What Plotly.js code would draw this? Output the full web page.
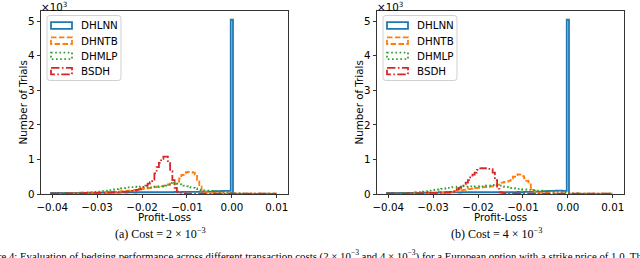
<!DOCTYPE html>
<html><head><meta charset="utf-8">
<script src="https://cdn.plot.ly/plotly-3.0.1.min.js"></script>
<style>html,body{margin:0;padding:0;background:#fff}#chart{width:640px;height:258px}</style>
</head><body><div id="chart"></div>
<script>
// ---------- data ----------
const binStart = -0.04025;      // left edge of first bin
const binWidth = 0.0005;
const seriesNames = ['DHLNN', 'DHNTB', 'DHMLP', 'BSDH'];
const xTickVals = [-0.04, -0.03, -0.02, -0.01, 0, 0.01];
const xTickText = ['\u22120.04', '\u22120.03', '\u22120.02', '\u22120.01', '0.00', '0.01'];
const yTickVals = [0, 1, 2, 3, 4, 5];
const yTickText = ['0', '1', '2', '3', '4', '5'];
const subCaptions = ['(a) Cost = 2 \u00d7 10<sup>\u22123</sup>', '(b) Cost = 4 \u00d7 10<sup>\u22123</sup>'];
const figCaption = 'Figure 4: Evaluation of hedging performance across different transaction costs (2 \u00d7 10<sup>\u22123</sup> and 4 \u00d7 10<sup>\u22123</sup>) for a European option with a strike price of 1.0. The';

// counts per bin, in thousands of trials
const dhlnnA = [0.03,0.03,0.02,0.03,0.03,0.02,0.03,0.03,0.03,0.02,
  0.03,0.03,0.03,0.04,0.03,0.03,0.04,0.03,0.04,0.04,
  0.04,0.04,0.04,0.04,0.04,0.05,0.04,0.04,0.05,0.04,
  0.04,0.05,0.05,0.04,0.05,0.05,0.05,0.04,0.05,0.05,
  0.05,0.05,0.05,0.05,0.05,0.05,0.05,0.05,0.05,0.05,
  0.05,0.05,0.05,0.05,0.05,0.06,0.05,0.05,0.06,0.06,
  0.06,0.06,0.06,0.06,0.06,0.06,0.07,0.06,0.07,0.07,
  0.07,0.07,0.08,0.08,0.08,0.08,0.09,0.09,0.09,0.09,
  5.05,0,0,0,0,0,0,0,0,0,
  0,0,0,0,0,0,0,0,0,0];
const dhntbA = [0.01,0.01,0.01,0.01,0.01,0.01,0.01,0.01,0.02,0.01,
  0.02,0.02,0.02,0.02,0.02,0.03,0.02,0.03,0.03,0.03,
  0.03,0.04,0.04,0.04,0.05,0.05,0.05,0.06,0.06,0.07,
  0.07,0.08,0.08,0.09,0.1,0.1,0.11,0.12,0.12,0.13,
  0.14,0.15,0.16,0.17,0.18,0.19,0.2,0.21,0.22,0.22,
  0.24,0.26,0.28,0.3,0.32,0.3,0.36,0.45,0.55,0.6,
  0.63,0.64,0.64,0.62,0.56,0.4,0.22,0.09,0.05,0.04,
  0.04,0.03,0.03,0.03,0.03,0.02,0.02,0.02,0.02,0.02,
  0.02,0.01,0.01,0.01,0.01,0.01,0.01,0.01,0.01,0.01,
  0.01,0.01,0.01,0.01,0.01,0.01,0.01,0.01,0.01,0.01];
const dhmlpA = [0.01,0.01,0.01,0.01,0.01,0.02,0.01,0.02,0.02,0.02,
  0.02,0.03,0.03,0.03,0.04,0.04,0.04,0.05,0.05,0.06,
  0.06,0.07,0.07,0.08,0.09,0.1,0.11,0.12,0.13,0.14,
  0.15,0.16,0.17,0.18,0.19,0.2,0.2,0.21,0.2,0.21,
  0.2,0.2,0.19,0.2,0.19,0.2,0.21,0.21,0.22,0.22,
  0.23,0.24,0.27,0.32,0.35,0.33,0.3,0.28,0.26,0.24,
  0.22,0.2,0.19,0.18,0.16,0.14,0.12,0.11,0.1,0.1,
  0.09,0.09,0.08,0.08,0.07,0.07,0.06,0.05,0.05,0.04,
  0.03,0.02,0.02,0.02,0.01,0.01,0.01,0.01,0.01,0.01,
  0.01,0.01,0.01,0.01,0.01,0.01,0.01,0.01,0.01,0.01];
const bsdhA = [0.01,0.01,0.01,0.01,0.01,0.01,0.02,0.01,0.02,0.02,
  0.02,0.02,0.02,0.02,0.02,0.03,0.02,0.03,0.03,0.03,
  0.03,0.03,0.04,0.03,0.04,0.04,0.04,0.05,0.05,0.05,
  0.05,0.06,0.06,0.07,0.07,0.08,0.09,0.1,0.12,0.14,
  0.16,0.2,0.24,0.3,0.34,0.42,0.6,0.78,0.9,1.02,
  1.08,1.08,0.95,0.66,0.4,0.18,0.07,0.04,0.02,0.02,
  0.01,0.01,0.01,0.01,0.01,0.01,0.01,0.01,0.01,0.01,
  0.01,0.01,0.01,0.01,0.01,0.01,0.01,0.01,0.01,0.01,
  0.01,0.01,0.01,0.01,0.01,0.01,0.01,0.01,0.01,0.01,
  0.01,0.01,0.01,0.01,0.01,0.01,0.01,0.01,0.01,0.01];

const dhlnnB = [0.03,0.03,0.03,0.02,0.03,0.03,0.03,0.02,0.03,0.03,
  0.03,0.03,0.04,0.03,0.03,0.04,0.04,0.03,0.04,0.04,
  0.04,0.04,0.04,0.05,0.04,0.04,0.05,0.04,0.05,0.05,
  0.05,0.05,0.04,0.05,0.05,0.05,0.05,0.05,0.05,0.05,
  0.05,0.05,0.05,0.05,0.05,0.05,0.05,0.05,0.05,0.05,
  0.05,0.05,0.05,0.05,0.05,0.05,0.05,0.05,0.06,0.05,
  0.05,0.06,0.06,0.06,0.06,0.06,0.07,0.07,0.07,0.08,
  0.08,0.08,0.09,0.09,0.09,0.1,0.1,0.1,0.09,0.09,
  5.05,0,0,0,0,0,0,0,0,0,
  0,0,0,0,0,0,0,0,0,0];
const dhntbB = [0.01,0.01,0.01,0.01,0.01,0.01,0.01,0.01,0.01,0.01,
  0.01,0.02,0.01,0.02,0.02,0.02,0.02,0.02,0.03,0.02,
  0.03,0.03,0.04,0.04,0.04,0.05,0.05,0.06,0.06,0.07,
  0.08,0.09,0.1,0.11,0.12,0.13,0.14,0.15,0.16,0.17,
  0.18,0.19,0.19,0.2,0.2,0.21,0.22,0.23,0.25,0.27,
  0.3,0.33,0.35,0.36,0.38,0.44,0.5,0.55,0.57,0.56,
  0.52,0.45,0.38,0.28,0.18,0.1,0.06,0.04,0.03,0.03,
  0.03,0.03,0.02,0.02,0.02,0.02,0.02,0.02,0.02,0.02,
  0.02,0.01,0.01,0.01,0.01,0.01,0.01,0.01,0.01,0.01,
  0.01,0.01,0.01,0.01,0.01,0.01,0.01,0.01,0.01,0.01];
const dhmlpB = [0.01,0.01,0.01,0.01,0.02,0.02,0.02,0.02,0.02,0.03,
  0.03,0.03,0.04,0.05,0.05,0.06,0.07,0.08,0.09,0.1,
  0.11,0.12,0.13,0.14,0.15,0.16,0.17,0.18,0.19,0.2,
  0.2,0.21,0.21,0.2,0.22,0.21,0.22,0.22,0.21,0.22,
  0.22,0.23,0.22,0.23,0.24,0.24,0.25,0.26,0.27,0.26,
  0.24,0.22,0.21,0.2,0.19,0.18,0.17,0.16,0.15,0.14,
  0.13,0.13,0.12,0.12,0.11,0.11,0.1,0.1,0.1,0.09,
  0.09,0.08,0.08,0.08,0.07,0.07,0.07,0.06,0.06,0.05,
  0.04,0.03,0.02,0.02,0.02,0.01,0.01,0.01,0.01,0.01,
  0.01,0.01,0.01,0.01,0.01,0.01,0.01,0.01,0.01,0.01];
const bsdhB = [0.01,0.01,0.01,0.01,0.01,0.01,0.01,0.01,0.01,0.02,
  0.01,0.02,0.02,0.02,0.02,0.02,0.02,0.03,0.02,0.03,
  0.03,0.03,0.03,0.04,0.04,0.04,0.05,0.05,0.06,0.08,
  0.1,0.14,0.18,0.22,0.28,0.33,0.4,0.48,0.56,0.62,
  0.7,0.74,0.75,0.74,0.75,0.73,0.72,0.62,0.4,0.15,
  0.05,0.03,0.02,0.02,0.01,0.01,0.01,0.01,0.01,0.01,
  0.01,0.01,0.01,0.01,0.01,0.01,0.01,0.01,0.01,0.01,
  0.01,0.01,0.01,0.01,0.01,0.01,0.01,0.01,0.01,0.01,
  0.01,0.01,0.01,0.01,0.01,0.01,0.01,0.01,0.01,0.01,
  0.01,0.01,0.01,0.01,0.01,0.01,0.01,0.01,0.01,0.01];

// ---------- styling ----------
const W = 640, H = 258;
const colors = ['#1f77b4', '#ff7f0e', '#2ca02c', '#d62728'];
const dashes = ['solid', '5.5px,2.4px', '1.6px,2.6px', '8.5px,2.4px,1.6px,2.4px'];
const LW = 1.8;
const axTop = 11, axBottom = 194;
const panels = [{left: 41, right: 288}, {left: 377, right: 624}];
const px = x => x / W, py = y => 1 - y / H;

function stepTrace(counts, i, ax) {
  const n = counts.length;
  const edges = [];
  for (let k = 0; k <= n; k++) edges.push(binStart + k * binWidth);
  const x = [edges[0]].concat(edges.slice(0, n)).concat([edges[n]]);
  const y = [0].concat(counts).concat([0]);
  return {type: 'scatter', mode: 'lines', x, y, xaxis: 'x' + ax, yaxis: 'y' + ax,
    name: seriesNames[i], showlegend: false, hoverinfo: 'skip',
    line: {shape: 'hv', color: colors[i], width: LW, dash: dashes[i]}};
}

const data = [];
[[dhlnnA, dhntbA, dhmlpA, bsdhA], [dhlnnB, dhntbB, dhmlpB, bsdhB]].forEach((set, p) => {
  const ax = p === 0 ? '' : '2';
  set.forEach((c, i) => data.push(stepTrace(c, i, ax)));
});

const tickFont = {family: 'DejaVu Sans', size: 10.3, color: '#000'};
function xAxis(p, anchor) {
  return {domain: [px(panels[p].left), px(panels[p].right)], anchor,
    range: [-0.0425, 0.0125], tickvals: xTickVals, ticktext: xTickText,
    ticks: 'outside', ticklen: 3.5, tickwidth: 0.8, tickcolor: '#000',
    showline: true, linecolor: '#000', linewidth: 0.8, mirror: true,
    showgrid: false, zeroline: false, tickfont: tickFont, fixedrange: true};
}
function yAxis(anchor) {
  return {domain: [py(axBottom), py(axTop)], anchor,
    range: [0, 5.3], tickvals: yTickVals, ticktext: yTickText,
    ticks: 'outside', ticklen: 3.5, tickwidth: 0.8, tickcolor: '#000',
    showline: true, linecolor: '#000', linewidth: 0.8, mirror: true,
    showgrid: false, zeroline: false, tickfont: tickFont, fixedrange: true};
}

const annotations = [];
const shapes = [];
function roundRectPath(x0, y0, x1, y1, r) {
  const pts = [
    ['M', x0 + r, y0], ['L', x1 - r, y0], ['Q', x1, y0, x1, y0 + r], ['L', x1, y1 - r],
    ['Q', x1, y1, x1 - r, y1], ['L', x0 + r, y1], ['Q', x0, y1, x0, y1 - r], ['L', x0, y0 + r],
    ['Q', x0, y0, x0 + r, y0]];
  return pts.map(s => {
    const c = s[0]; const v = s.slice(1); const out = [];
    for (let j = 0; j < v.length; j += 2) out.push(px(v[j]) + ',' + py(v[j + 1]));
    return c + out.join(' ');
  }).join(' ') + ' Z';
}

panels.forEach((pn, p) => {
  const cx = (pn.left + pn.right) / 2;
  annotations.push({xref: 'paper', yref: 'paper', x: px(cx), y: py(217), text: 'Profit-Loss',
    showarrow: false, xanchor: 'center', yanchor: 'middle', font: tickFont, borderpad: 0});
  annotations.push({xref: 'paper', yref: 'paper', x: px(pn.left - 19), y: py((axTop + axBottom) / 2),
    text: 'Number of Trials', textangle: -90, showarrow: false, xanchor: 'center', yanchor: 'middle', font: tickFont});
  annotations.push({xref: 'paper', yref: 'paper', x: px(pn.left - 1), y: py(6), text: '\u00d710<sup>3</sup>',
    showarrow: false, xanchor: 'left', yanchor: 'middle', font: tickFont, borderpad: 0});
  annotations.push({xref: 'paper', yref: 'paper', x: px(cx - 4), y: py(233), text: subCaptions[p],
    showarrow: false, xanchor: 'center', yanchor: 'middle', font: {family: 'Liberation Serif', size: 12, color: '#000'}});
  // legend
  const lx = pn.left + 6, ly = axTop + 4.5, lw = 74, lh = 65;
  shapes.push({type: 'path', xref: 'paper', yref: 'paper', path: roundRectPath(lx, ly, lx + lw, ly + lh, 3),
    line: {color: '#d0d0d0', width: 1}, fillcolor: 'rgba(255,255,255,0.8)', layer: 'above'});
  seriesNames.forEach((nm, i) => {
    const yc = ly + 10 + i * 15.2;
    shapes.push({type: 'rect', xref: 'paper', yref: 'paper', x0: px(lx + 4), x1: px(lx + 25),
      y0: py(yc - 3.3), y1: py(yc + 3.3), line: {color: colors[i], width: LW, dash: dashes[i]},
      fillcolor: 'rgba(0,0,0,0)', layer: 'above'});
    annotations.push({xref: 'paper', yref: 'paper', x: px(lx + 32), y: py(yc), text: nm,
      showarrow: false, xanchor: 'left', yanchor: 'middle', font: tickFont});
  });
});
annotations.push({xref: 'paper', yref: 'paper', x: px(-24), y: py(246), text: figCaption,
  showarrow: false, xanchor: 'left', yanchor: 'top', font: {family: 'Liberation Serif', size: 10.8, color: '#000'}});

const layout = {width: W, height: H, margin: {l: 0, r: 0, t: 0, b: 0},
  paper_bgcolor: '#fff', plot_bgcolor: '#fff', showlegend: false,
  xaxis: xAxis(0, 'y'), yaxis: yAxis('x'),
  xaxis2: xAxis(1, 'y2'), yaxis2: yAxis('x2'),
  annotations, shapes};

Plotly.newPlot('chart', data, layout, {staticPlot: true, displayModeBar: false});
</script></body></html>
